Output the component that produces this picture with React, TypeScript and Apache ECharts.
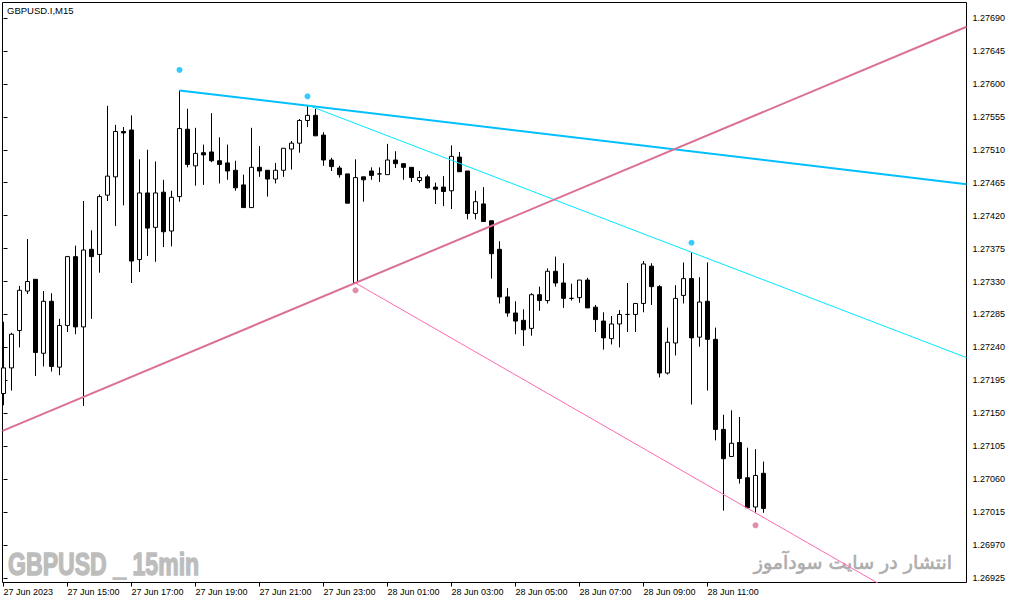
import React, { useEffect, useRef } from "react";
import * as echarts from "echarts";

// Time axis labels (one every 8 bars of 15 minutes)
const labelBars = [0, 8, 16, 24, 32, 40, 48, 56, 64, 72, 80, 88];
const timeLabels = [
  "27 Jun 2023",
  "27 Jun 15:00",
  "27 Jun 17:00",
  "27 Jun 19:00",
  "27 Jun 21:00",
  "27 Jun 23:00",
  "28 Jun 01:00",
  "28 Jun 03:00",
  "28 Jun 05:00",
  "28 Jun 07:00",
  "28 Jun 09:00",
  "28 Jun 11:00",
];

// Price axis tick labels
const priceTicks = [
  1.26925, 1.2697, 1.27015, 1.2706, 1.27105, 1.2715, 1.27195, 1.2724, 1.27285,
  1.2733, 1.27375, 1.2742, 1.27465, 1.2751, 1.27555, 1.276, 1.27645, 1.2769,
];

// OHLC of the 96 M15 bars (27 Jun 13:00 .. 28 Jun 12:45)
const opens = [
  1.27177, 1.27212, 1.27263, 1.27317, 1.27333, 1.27232, 1.27303, 1.27213, 1.2727, 1.27364,
  1.27268, 1.27374, 1.27367, 1.27448, 1.27473, 1.27535, 1.27537, 1.2736, 1.27451, 1.27404,
  1.27452, 1.27399, 1.27446, 1.27538, 1.27488, 1.27506, 1.27507, 1.27495, 1.27492, 1.27482,
  1.27462, 1.27431, 1.27486, 1.27482, 1.2747, 1.27482, 1.27511, 1.27519, 1.2755, 1.27557,
  1.2753, 1.27496, 1.27485, 1.27477, 1.27328, 1.27473, 1.27481, 1.27477, 1.27476, 1.27496,
  1.27491, 1.27486, 1.27468, 1.27473, 1.27459, 1.27459, 1.27454, 1.275, 1.27481, 1.27423,
  1.27436, 1.27413, 1.27374, 1.27309, 1.27287, 1.27277, 1.27266, 1.27312, 1.27304, 1.27344,
  1.27328, 1.27307, 1.27308, 1.27332, 1.27295, 1.27276, 1.27252, 1.27272, 1.27285, 1.27285,
  1.273, 1.27351, 1.27323, 1.27205, 1.27246, 1.27311, 1.27334, 1.27254, 1.27303, 1.27251,
  1.27128, 1.27091, 1.2711, 1.27062, 1.27022, 1.27068,
];
const highs = [
  1.27275, 1.2726, 1.27324, 1.27388, 1.27333, 1.27317, 1.27314, 1.27279, 1.27365, 1.27379,
  1.2744, 1.274, 1.27449, 1.2757, 1.27544, 1.27541, 1.27557, 1.27497, 1.2751, 1.27494,
  1.27469, 1.27454, 1.27591, 1.27566, 1.2754, 1.27517, 1.2756, 1.27527, 1.27517, 1.27495,
  1.27476, 1.2754, 1.27515, 1.27482, 1.27492, 1.27512, 1.27522, 1.27552, 1.27571, 1.27566,
  1.27534, 1.27499, 1.27488, 1.27477, 1.27497, 1.27473, 1.27486, 1.27486, 1.27518, 1.27508,
  1.27491, 1.27486, 1.27481, 1.27476, 1.27465, 1.27474, 1.27516, 1.27507, 1.27481, 1.27454,
  1.27459, 1.27413, 1.27385, 1.27321, 1.27303, 1.27292, 1.27314, 1.27323, 1.27348, 1.27364,
  1.27355, 1.27327, 1.27332, 1.27335, 1.27298, 1.27288, 1.27283, 1.27291, 1.27328, 1.273,
  1.27358, 1.27355, 1.27325, 1.27267, 1.27325, 1.27356, 1.2737, 1.27336, 1.27356, 1.27267,
  1.27148, 1.27154, 1.27145, 1.27103, 1.27101, 1.27084,
];
const lows = [
  1.27161, 1.27181, 1.2724, 1.27313, 1.27201, 1.27214, 1.27207, 1.27202, 1.27261, 1.27258,
  1.2716, 1.27279, 1.27342, 1.2744, 1.27406, 1.27434, 1.27328, 1.27343, 1.27365, 1.27357,
  1.27377, 1.27378, 1.27439, 1.27486, 1.27461, 1.27462, 1.27493, 1.27464, 1.27469, 1.27454,
  1.27431, 1.27431, 1.27473, 1.27446, 1.27464, 1.27473, 1.27483, 1.27506, 1.27541, 1.27529,
  1.27488, 1.27481, 1.27472, 1.27437, 1.27328, 1.27439, 1.27469, 1.27466, 1.27476, 1.27485,
  1.27469, 1.27466, 1.27465, 1.27457, 1.27436, 1.27433, 1.27429, 1.2748, 1.27415, 1.27415,
  1.27412, 1.27334, 1.273, 1.27282, 1.27258, 1.27242, 1.27256, 1.2729, 1.273, 1.27323,
  1.27294, 1.27304, 1.27301, 1.27294, 1.27261, 1.27237, 1.27244, 1.2724, 1.27261, 1.27261,
  1.27288, 1.27298, 1.27199, 1.27203, 1.27229, 1.273, 1.27162, 1.27241, 1.27181, 1.27113,
  1.27017, 1.27091, 1.27054, 1.2702, 1.27014, 1.27014,
];
const closes = [
  1.27212, 1.27258, 1.27318, 1.2733, 1.27233, 1.27303, 1.27214, 1.2727, 1.27364, 1.27268,
  1.27373, 1.27364, 1.27446, 1.27474, 1.27535, 1.27533, 1.27358, 1.27451, 1.27403, 1.27451,
  1.27398, 1.27445, 1.27539, 1.2749, 1.27505, 1.27503, 1.27495, 1.2749, 1.27481, 1.27458,
  1.27431, 1.27486, 1.27481, 1.2747, 1.27482, 1.27512, 1.27519, 1.2755, 1.27557, 1.27529,
  1.27496, 1.27487, 1.27476, 1.27437, 1.27472, 1.27469, 1.27475, 1.27477, 1.27496, 1.27491,
  1.27486, 1.27472, 1.27472, 1.27458, 1.27456, 1.27453, 1.27501, 1.2748, 1.27423, 1.27439,
  1.27412, 1.27368, 1.27309, 1.27287, 1.27276, 1.27264, 1.27312, 1.27304, 1.27344, 1.27328,
  1.27307, 1.27307, 1.27332, 1.27294, 1.27278, 1.27253, 1.27272, 1.27285, 1.27285, 1.273,
  1.27354, 1.27323, 1.27205, 1.27247, 1.27307, 1.27334, 1.27253, 1.27302, 1.27251, 1.27128,
  1.27088, 1.27109, 1.27061, 1.27021, 1.27065, 1.2702,
];

// Trend lines: [barIndex, price] anchors
const blueTrend = [
  [22, 1.27591],
  [120.375, 1.27463],
];
const cyanTrend = [
  [38, 1.27571],
  [86, 1.2737],
];
const pinkTrend = [
  [-0.125, 1.27126],
  [120.375, 1.27678],
];
const pinkLowTrend = [
  [44, 1.27328],
  [94, 1.27014],
];
// Fractal-style dots
const blueMarks = [
  [22, 1.27619],
  [38, 1.27583],
  [86, 1.27383],
];
const pinkMarks = [
  [44, 1.27318],
  [94, 1.26997],
];

const X_MIN = -0.125;
const X_MAX = 120.375;
const Y_MIN = 1.2691884;
const Y_MAX = 1.2771117;

function ray(pts: number[][]) {
  const [[x1, y1], [x2, y2]] = pts;
  const s = (y2 - y1) / (x2 - x1);
  return [
    [x1, y1],
    [X_MAX, y1 + s * (X_MAX - x1)],
  ];
}

const FONT = "Liberation Sans";

export default function App() {
  const ref = useRef<HTMLDivElement>(null);
  useEffect(() => {
    if (!ref.current) return;
    const chart = echarts.init(ref.current, undefined, { renderer: "svg" });
    const candles = opens.map((o, i) => [i, o, closes[i], lows[i], highs[i]]);
    const lineSeries = (data: number[][], color: string, width: number) => ({
      type: "line",
      data,
      showSymbol: false,
      symbol: "none",
      clip: true,
      z: 3,
      silent: true,
      lineStyle: { color, width },
    });
    chart.setOption({
      animation: false,
      backgroundColor: "#ffffff",
      grid: {
        left: 2.5,
        top: 2.5,
        width: 964,
        height: 580,
        show: true,
        borderColor: "#000",
        borderWidth: 1,
        backgroundColor: "transparent",
      },
      xAxis: {
        type: "value",
        min: X_MIN,
        max: X_MAX,
        position: "bottom",
        axisLine: { show: false },
        splitLine: { show: false },
        axisTick: {
          show: true,
          customValues: labelBars,
          length: 4,
          lineStyle: { color: "#000", width: 1 },
        },
        axisLabel: {
          customValues: labelBars,
          formatter: (v: number) => {
            const k = labelBars.indexOf(Math.round(v));
            return k >= 0 ? timeLabels[k] : "";
          },
          align: "left",
          margin: 5,
          fontSize: 9,
          color: "#000",
          fontFamily: FONT,
        },
      },
      yAxis: {
        type: "value",
        position: "right",
        min: Y_MIN,
        max: Y_MAX,
        axisLine: { show: false },
        splitLine: { show: false },
        axisTick: {
          show: true,
          customValues: priceTicks,
          length: 4,
          lineStyle: { color: "#000", width: 1 },
        },
        axisLabel: {
          customValues: priceTicks,
          formatter: (v: number) => v.toFixed(5),
          margin: 6,
          fontSize: 9,
          color: "#000",
          fontFamily: FONT,
        },
      },
      graphic: [
        {
          type: "text",
          x: 7,
          y: 10.5,
          z: 1,
          style: {
            text: "GBPUSD.I,M15",
            font: `9.5px "${FONT}"`,
            fill: "#000",
            verticalAlign: "middle",
            textVerticalAlign: "middle",
          },
        },
        {
          type: "text",
          x: 8,
          y: 564,
          scaleX: 0.745,
          z: 1,
          style: {
            text: "GBPUSD _ 15min",
            font: `bold 31px "${FONT}"`,
            fill: "#BDBDBD",
            stroke: "#BDBDBD",
            lineWidth: 1.4,
            verticalAlign: "middle",
            textVerticalAlign: "middle",
          },
        },
        {
          type: "text",
          x: 952,
          y: 562,
          z: 1,
          style: {
            text: "انتشار در سایت سودآموز",
            font: '19px "DejaVu Sans"',
            fill: "#ADADAD",
            stroke: "#ADADAD",
            lineWidth: 0.6,
            align: "right",
            textAlign: "right",
            verticalAlign: "middle",
            textVerticalAlign: "middle",
          },
        },
      ],
      series: [
        {
          type: "candlestick",
          data: candles,
          barWidth: 4,
          z: 2,
          silent: true,
          itemStyle: {
            color: "#ffffff",
            color0: "#000000",
            borderColor: "#000000",
            borderColor0: "#000000",
            borderColorDoji: "#000000",
            borderWidth: 1,
          },
        },
        lineSeries(blueTrend, "#00BFFF", 2),
        lineSeries(ray(cyanTrend), "#00E6FF", 1),
        lineSeries(pinkTrend, "#DB7093", 2),
        lineSeries(ray(pinkLowTrend), "#FF69B4", 1),
        {
          type: "scatter",
          data: blueMarks,
          symbolSize: 6,
          z: 4,
          silent: true,
          itemStyle: { color: "#00BFFF" },
        },
        {
          type: "scatter",
          data: pinkMarks,
          symbolSize: 6,
          z: 4,
          silent: true,
          itemStyle: { color: "#DB7093" },
        },
      ],
    });
    return () => chart.dispose();
  }, []);
  return (
    <div
      ref={ref}
      style={{
        position: "fixed",
        left: 0,
        top: 0,
        width: 1013,
        height: 604,
        background: "#fff",
      }}
    />
  );
}
